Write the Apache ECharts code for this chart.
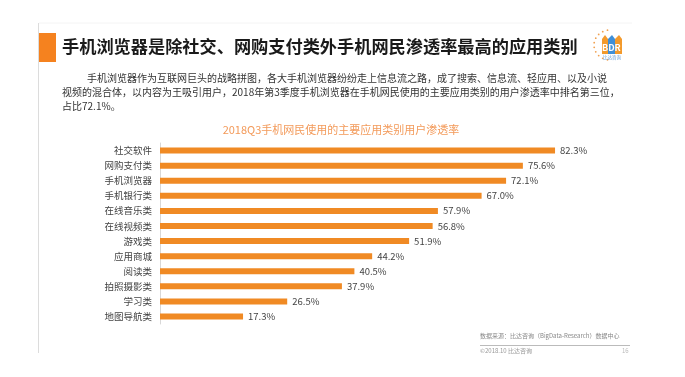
<!DOCTYPE html>
<html>
<head>
<meta charset="utf-8">
<style>
html, body { margin: 0; padding: 0; background: #fff; }
#chart { width: 685px; height: 377px; }
</style>
<script src="https://cdn.jsdelivr.net/npm/echarts@6/dist/echarts.min.js"></script>
</head>
<body>
<div id="chart"></div>
<script>
// 类别和渗透率(%)
var categories = ['社交软件', '网购支付类', '手机浏览器', '手机银行类', '在线音乐类', '在线视频类',
	'游戏类', '应用商城', '阅读类', '拍照摄影类', '学习类', '地图导航类'];
var rates = [82.3, 75.6, 72.1, 67.0, 57.9, 56.8, 51.9, 44.2, 40.5, 37.9, 26.5, 17.3];

var orange = '#f08a24';
var font = '"Noto Sans CJK SC", sans-serif';

var myChart = echarts.init(document.getElementById('chart'));

// logo左边的点状弧线
var dots = [];
for (var i = 0; i < 10; i++) {
	var a = Math.PI * (0.55 + i * 0.1);
	dots.push({ type: 'circle', shape: { cx: 610 + 16 * Math.cos(a), cy: 45 - 15 * Math.sin(a), r: 0.9 }, style: { fill: '#f0a050' } });
}

var option = {
	backgroundColor: '#fff',
	animation: false,
	title: {
		text: '2018Q3手机网民使用的主要应用类别用户渗透率',
		left: 336,
		top: 119,
		textAlign: 'center',
		textStyle: { color: '#f39a5a', fontSize: 11, fontWeight: 'normal', fontFamily: font }
	},
	grid: { left: 160, top: 143, width: 480, height: 181 },
	xAxis: {
		type: 'value',
		min: 0,
		max: 100,
		show: false
	},
	yAxis: {
		type: 'category',
		data: categories,
		inverse: true,
		axisLine: { show: true, lineStyle: { color: '#d8d8d8', width: 1 } },
		axisTick: { show: false },
		axisLabel: { color: '#444', fontSize: 9.5, fontFamily: font, margin: 8 }
	},
	series: [{
		type: 'bar',
		data: rates,
		barWidth: 6,
		itemStyle: { color: orange },
		label: {
			show: true,
			position: 'right',
			distance: 5,
			color: '#444',
			fontSize: 9.5,
			fontFamily: font,
			formatter: function (p) { return p.value.toFixed(1) + '%'; }
		}
	}],
	graphic: [
		// 页面左边框
		{ type: 'line', shape: { x1: 38.5, y1: 23, x2: 38.5, y2: 353 }, style: { stroke: '#dcdcdc', lineWidth: 1 } },
		{ type: 'line', shape: { x1: 39, y1: 23, x2: 632, y2: 23 }, style: { stroke: '#f4f4f4', lineWidth: 1 } },
		// 标题左侧橙色块
		{ type: 'rect', shape: { x: 39, y: 33, width: 17, height: 29 }, style: { fill: '#f5821f' } },
		{ type: 'text', left: 62, top: 38, style: { text: '手机浏览器是除社交、网购支付类外手机网民渗透率最高的应用类别', fill: '#1a1a1a', font: 'bold 17.2px ' + font } },
		// BDR logo
		{ type: 'group', children: dots },
		{ type: 'polygon', shape: { points: [[602, 54], [602, 39], [605, 35], [608, 39], [608, 54]] }, style: { fill: '#f39a2c' } },
		{ type: 'polygon', shape: { points: [[608, 54], [608, 39], [612, 35], [615, 39], [615, 54]] }, style: { fill: '#3f8fd8' } },
		{ type: 'polygon', shape: { points: [[615, 54], [615, 39], [619, 35], [622, 39], [622, 54]] }, style: { fill: '#f39a2c' } },
		{ type: 'text', left: 602, top: 43, style: { text: 'BDR', fill: '#fff', font: 'bold 9px ' + font } },
		{ type: 'text', left: 603, top: 55, style: { text: '比达咨询', fill: '#6aa0d8', font: '4.5px ' + font } },
		// 说明文字
		{ type: 'text', left: 87, top: 73, style: { text: '手机浏览器作为互联网巨头的战略拼图，各大手机浏览器纷纷走上信息流之路，成了搜索、信息流、轻应用、以及小说', fill: '#333', font: '10px ' + font } },
		{ type: 'text', left: 62, top: 87, style: { text: '视频的混合体，以内容为王吸引用户，2018年第3季度手机浏览器在手机网民使用的主要应用类别的用户渗透率中排名第三位，', fill: '#333', font: '10px ' + font } },
		{ type: 'text', left: 62, top: 101, style: { text: '占比72.1%。', fill: '#333', font: '10px ' + font } },
		// 底部来源
		{ type: 'text', left: 480, top: 333, style: { text: '数据来源：比达咨询（BigData-Research）数据中心', fill: '#888', font: '6px ' + font } },
		{ type: 'line', shape: { x1: 480, y1: 345.5, x2: 630, y2: 345.5 }, style: { stroke: '#bbb', lineWidth: 1 } },
		{ type: 'text', left: 480, top: 348, style: { text: '©2018.10 比达咨询', fill: '#999', font: '6px ' + font } },
		{ type: 'text', left: 622, top: 348, style: { text: '16', fill: '#bbb', font: '6px ' + font } }
	]
};

myChart.setOption(option);
window.addEventListener('resize', function () {
	myChart.resize();
});
</script>
</body>
</html>
